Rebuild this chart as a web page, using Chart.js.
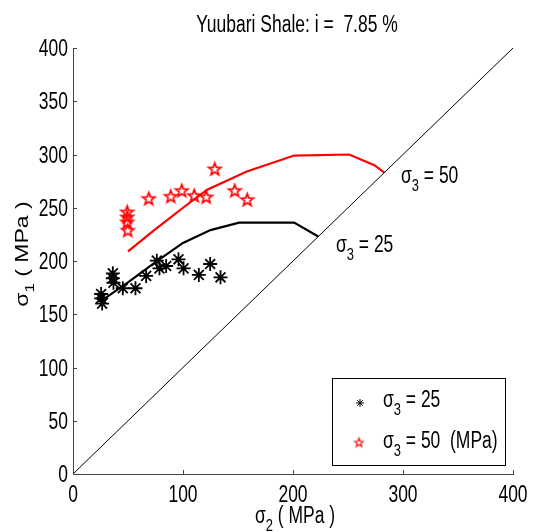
<!DOCTYPE html>
<html>
<head>
<meta charset="utf-8">
<script src="https://cdn.jsdelivr.net/npm/chart.js@4.4.0/dist/chart.umd.min.js"></script>
<style>
  body { margin: 0; background: #fff; }
</style>
</head>
<body>
<canvas id="shale-chart" width="533" height="532"></canvas>
<script>
var FONT = '"Liberation Sans", Arial, sans-serif';
var SX = 0.76;   // the figure is squeezed sideways, so is its text
var FS = 23;

// test points, sigma3 = 25 MPa
var s25_sigma2 = [25.6, 25.6, 26.5, 36.2, 36.2, 36.8, 45.3, 56.8, 66.5, 76.2, 78.6, 84.7, 95.9, 100.5, 114.4, 124.7, 134.1];
var s25_sigma1 = [169, 165, 160, 188.4, 183.8, 179.6, 174.4, 174.4, 186, 200.3, 193.1, 195.3, 201.6, 193.1, 186.9, 197.2, 184.7];

// test points, sigma3 = 50 MPa
var s50_sigma2 = [49.3, 49.3, 49.3, 49.8, 68.9, 88.9, 98.9, 110.2, 121.1, 128.9, 147.1, 158.4];
var s50_sigma1 = [246.3, 241.6, 236.9, 229.1, 258.9, 261, 266.4, 261.7, 260.4, 286.7, 266.4, 257.9];

// fitted curves
var fit25_sigma2 = [25, 50, 75, 100, 125, 151, 201, 223];
var fit25_sigma1 = [162, 180, 199, 217, 229, 236, 236, 223];
var fit50_sigma2 = [50, 75, 100, 122, 158, 201, 251, 274, 283];
var fit50_sigma1 = [209, 230, 250, 267, 284, 299, 300, 290, 283];

// sigma1 = sigma2 line
var diag_x = [0, 400];
var diag_y = [0, 400];

var xTicks = [0, 100, 200, 300, 400];
var yTicks = [0, 50, 100, 150, 200, 250, 300, 350, 400];

function pts(xs, ys) {
  return xs.map(function(v, i) { return {x: v, y: ys[i]}; });
}

// outlined pentagram like matlab 'p'
function pentagram(r, color, lw) {
  var c = document.createElement('canvas');
  var s = Math.ceil(r * 2 + 4);
  c.width = s; c.height = s;
  var g = c.getContext('2d');
  g.strokeStyle = color;
  g.lineWidth = lw;
  g.lineJoin = 'miter';
  g.beginPath();
  for (var k = 0; k < 10; k++) {
    var rr = k % 2 === 0 ? r : r * 0.42;
    var a = -Math.PI / 2 + k * Math.PI / 5;
    var px = s / 2 + rr * Math.cos(a), py = s / 2 + 0.8 + rr * Math.sin(a);
    if (k === 0) g.moveTo(px, py); else g.lineTo(px, py);
  }
  g.closePath();
  g.stroke();
  return c;
}
var redStar = pentagram(6.5, '#ff0000', 1.7);
var redStarSmall = pentagram(4.5, '#ff0000', 1.2);

// plain text, squeezed by SX
function squeezed(ctx, str, x, y, align) {
  ctx.save();
  ctx.translate(x, y);
  ctx.scale(SX, 1);
  ctx.font = FS + 'px ' + FONT;
  ctx.textAlign = align;
  ctx.fillText(str, 0, 0);
  ctx.restore();
}

// sigma with subscript, drawn in local (unsqueezed) units
function sigmaLocal(ctx, x, y, sub, rest) {
  ctx.font = FS + 'px ' + FONT;
  ctx.fillText('\u03c3', x, y);
  var w = ctx.measureText('\u03c3').width;
  ctx.font = Math.round(FS * 0.75) + 'px ' + FONT;
  ctx.fillText(sub, x + w, y + 8);
  var w2 = ctx.measureText(sub).width;
  ctx.font = FS + 'px ' + FONT;
  ctx.fillText(rest, x + w + w2, y);
}

function sigmaWidth(ctx, sub, rest) {
  ctx.font = FS + 'px ' + FONT;
  var w = ctx.measureText('\u03c3').width + ctx.measureText(rest).width;
  ctx.font = Math.round(FS * 0.75) + 'px ' + FONT;
  return w + ctx.measureText(sub).width;
}

function sigmaText(ctx, x, y, sub, rest) {
  ctx.save();
  ctx.translate(x, y);
  ctx.scale(SX, 1);
  ctx.textAlign = 'left';
  sigmaLocal(ctx, 0, 0, sub, rest);
  ctx.restore();
}

var decorations = {
  id: 'decorations',
  afterDraw: function(chart) {
    var ctx = chart.ctx;
    var xs = chart.scales.x, ys = chart.scales.y;
    var area = chart.chartArea;
    ctx.save();

    // inward ticks
    ctx.strokeStyle = '#444';
    ctx.lineWidth = 1;
    ctx.beginPath();
    xTicks.forEach(function(v) {
      var p = Math.round(xs.getPixelForValue(v)) + 0.5;
      ctx.moveTo(p, area.bottom); ctx.lineTo(p, area.bottom - 4);
    });
    yTicks.forEach(function(v) {
      var p = Math.round(ys.getPixelForValue(v)) + 0.5;
      ctx.moveTo(area.left, p); ctx.lineTo(area.left + 4, p);
    });
    ctx.stroke();

    ctx.fillStyle = '#000';
    ctx.textBaseline = 'alphabetic';

    // tick labels
    xTicks.forEach(function(v) {
      squeezed(ctx, String(v), xs.getPixelForValue(v), 502, 'center');
    });
    yTicks.forEach(function(v) {
      squeezed(ctx, String(v), 68, ys.getPixelForValue(v) + 8, 'right');
    });

    // title
    squeezed(ctx, 'Yuubari Shale: i =  7.85 %', 297, 32, 'center');

    // x label
    var xl = sigmaWidth(ctx, '2', ' ( MPa )') * SX;
    sigmaText(ctx, (area.left + area.right) / 2 - xl / 2 + 2, 523, '2', ' ( MPa )');

    // y label
    ctx.save();
    ctx.translate(28, 254);
    ctx.scale(SX, 1);
    ctx.rotate(-Math.PI / 2);
    ctx.textAlign = 'left';
    var yl = sigmaWidth(ctx, '1', ' ( MPa )');
    sigmaLocal(ctx, -yl / 2, 0, '1', ' ( MPa )');
    ctx.restore();

    // curve labels
    sigmaText(ctx, 401, 183, '3', ' = 50');
    sigmaText(ctx, 336, 252, '3', ' = 25');

    // legend
    ctx.fillStyle = '#fff';
    ctx.fillRect(332, 378, 173, 87);
    ctx.strokeStyle = '#000';
    ctx.lineWidth = 1;
    ctx.strokeRect(332.5, 378.5, 173, 87);
    ctx.beginPath();
    var mx = 360, my = 403, r = 4;
    ctx.moveTo(mx - r, my); ctx.lineTo(mx + r, my);
    ctx.moveTo(mx, my - r); ctx.lineTo(mx, my + r);
    ctx.moveTo(mx - r * 0.7, my - r * 0.7); ctx.lineTo(mx + r * 0.7, my + r * 0.7);
    ctx.moveTo(mx - r * 0.7, my + r * 0.7); ctx.lineTo(mx + r * 0.7, my - r * 0.7);
    ctx.stroke();
    ctx.drawImage(redStarSmall, 359 - redStarSmall.width / 2, 442 - redStarSmall.height / 2);
    ctx.fillStyle = '#000';
    sigmaText(ctx, 383, 407, '3', ' = 25');
    sigmaText(ctx, 383, 448, '3', ' = 50  (MPa)');

    ctx.restore();
  }
};

var ctx = document.getElementById('shale-chart');
var shaleChart = new Chart(ctx, {
  type: 'scatter',
  data: {
    datasets: [
      {
        label: 'diag',
        data: pts(diag_x, diag_y),
        showLine: true,
        borderColor: '#000',
        borderWidth: 1,
        pointRadius: 0
      },
      {
        label: 'fit 50',
        data: pts(fit50_sigma2, fit50_sigma1),
        showLine: true,
        borderColor: '#ff0000',
        borderWidth: 2.2,
        pointRadius: 0
      },
      {
        label: 'fit 25',
        data: pts(fit25_sigma2, fit25_sigma1),
        showLine: true,
        borderColor: '#000',
        borderWidth: 2.2,
        pointRadius: 0
      },
      {
        label: 'sigma3 = 25',
        data: pts(s25_sigma2, s25_sigma1),
        pointStyle: 'star',
        pointRadius: 7,
        borderColor: '#000',
        borderWidth: 1.8,
        backgroundColor: '#000'
      },
      {
        label: 'sigma3 = 50',
        data: pts(s50_sigma2, s50_sigma1),
        pointStyle: redStar,
        pointRadius: 7
      }
    ]
  },
  options: {
    responsive: false,
    animation: false,
    events: [],
    layout: { padding: { top: 48, right: 20, left: 0, bottom: 0 } },
    plugins: {
      legend: { display: false },
      tooltip: { enabled: false },
      title: { display: false }
    },
    scales: {
      x: {
        type: 'linear',
        min: 0, max: 400,
        grid: { display: false, drawTicks: false },
        border: { color: '#444', width: 1 },
        ticks: { stepSize: 100, display: false },
        afterFit: function(scale) { scale.height = 58; }
      },
      y: {
        type: 'linear',
        min: 0, max: 400,
        grid: { display: false, drawTicks: false },
        border: { color: '#444', width: 1 },
        ticks: { stepSize: 50, display: false },
        afterFit: function(scale) { scale.width = 73; }
      }
    }
  },
  plugins: [decorations]
});
</script>
</body>
</html>
